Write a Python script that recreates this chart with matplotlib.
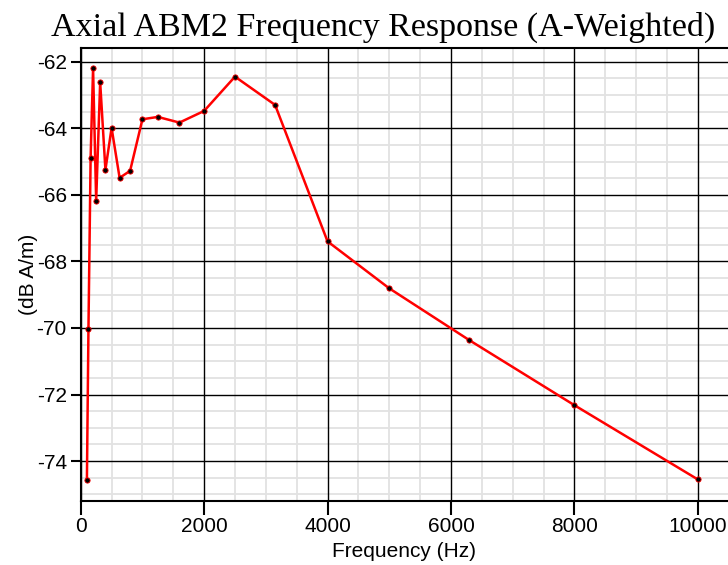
import matplotlib
matplotlib.use("Agg")
import matplotlib.pyplot as plt
from matplotlib.ticker import MultipleLocator

freq = [100, 125, 160, 200, 250, 315, 400, 500, 630, 800, 1000, 1250, 1600,
        2000, 2500, 3150, 4000, 5000, 6300, 8000, 10000]
level = [-74.57, -70.04, -64.9, -62.2, -66.18, -62.62, -65.25, -63.99, -65.49,
         -65.28, -63.73, -63.66, -63.83, -63.48, -62.45, -63.3, -67.4, -68.81,
         -70.37, -72.32, -74.55]

title = "Axial ABM2 Frequency Response (A-Weighted)"
xlabel = "Frequency (Hz)"
ylabel = "(dB A/m)"

plt.rcParams['font.family'] = ['Liberation Sans', 'DejaVu Sans']
plt.rcParams['axes.unicode_minus'] = False

fig = plt.figure(figsize=(7.28, 5.65), dpi=100)
ax = fig.add_axes([0.1109, 0.1138, 0.8891, 0.8012])

ax.plot(freq, level, color='#ff0000', lw=1.8, marker='o', markersize=3.8,
        markerfacecolor='black', markeredgecolor='#ff0000', markeredgewidth=0.6,
        zorder=5)

ax.set_xlim(0, 10490)
ax.set_ylim(-75.19, -61.59)
ax.xaxis.set_major_locator(MultipleLocator(2000))
ax.xaxis.set_minor_locator(MultipleLocator(500))
ax.yaxis.set_major_locator(MultipleLocator(2))
ax.yaxis.set_minor_locator(MultipleLocator(0.5))

ax.grid(which='minor', color='#e2e2e2', lw=1.3)
ax.set_axisbelow(True)

xt = [v for v in ax.get_xticks() if 0 <= v <= 10490]
yt = [v for v in ax.get_yticks() if -75.19 <= v <= -61.59]
ax.vlines(xt, 0, 1, transform=ax.get_xaxis_transform(), colors='black', lw=1.0, zorder=2)
ax.hlines(yt, 0, 1, transform=ax.get_yaxis_transform(), colors='black', lw=1.0, zorder=2)

for s in ['left', 'bottom', 'top']:
    ax.spines[s].set_linewidth(1.5)
    ax.spines[s].set_color('black')
ax.spines['right'].set_visible(False)

ax.tick_params(axis='x', which='major', length=10, width=1.5, pad=2, labelsize=15)
ax.tick_params(axis='y', which='major', length=7, width=1.5, pad=3, labelsize=15)
ax.tick_params(which='minor', length=0)

ax.set_xlabel(xlabel, fontsize=15, labelpad=4)
ax.set_ylabel(ylabel, fontsize=15, labelpad=-1)

fig.text(383/728, 1 - 36/565, title, ha='center', va='baseline',
         fontsize=24.5, family=['Liberation Serif', 'DejaVu Serif'])

fig.savefig('out.png', dpi=100)
